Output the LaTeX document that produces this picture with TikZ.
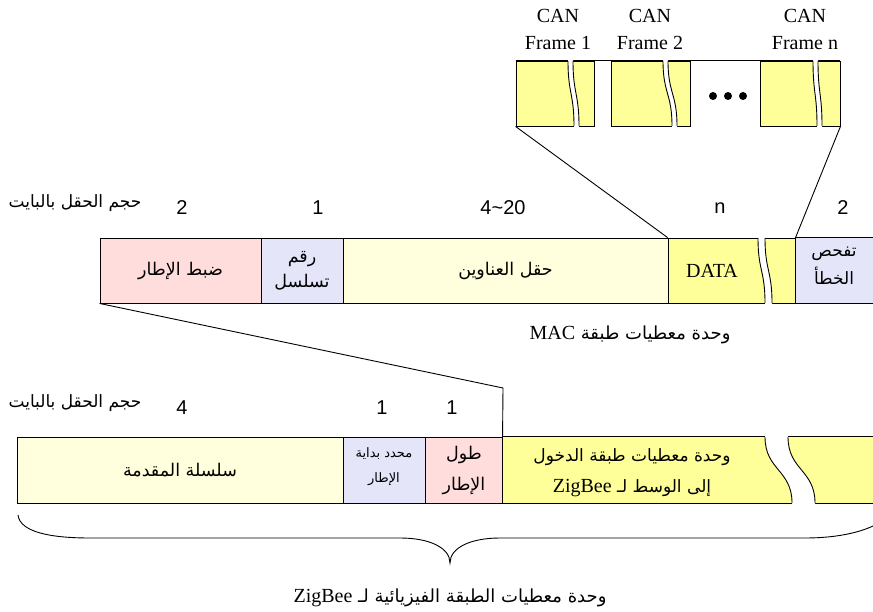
\documentclass[tikz,border=0pt]{standalone}
\usepackage{fontspec}
\setmainfont{Liberation Serif}
\newfontfamily\arabicfont[Script=Arabic]{DejaVu Sans}
\newfontfamily\numfont{Liberation Sans}
\TeXXeTstate=1
\newcommand\ar[1]{\beginR#1\endR}
\definecolor{pinkc}{RGB}{255,221,221}
\definecolor{lavc}{RGB}{229,229,250}
\definecolor{lyel}{RGB}{255,255,221}
\definecolor{yelc}{RGB}{255,255,153}
\newcommand\brkcut[5]{%
 \fill[white] (#1,{#2-1}) -- (#1,#2) .. controls (#1,{(#2+#3)/2}) and ({#1+#5},{(#2+#3)/2}) .. ({#1+#5},#3) -- ({#1+#5},{#3+1}) -- ({#1+#5+#4},{#3+1}) -- ({#1+#5+#4},#3) .. controls ({#1+#5+#4},{(#2+#3)/2}) and ({#1+#4},{(#2+#3)/2}) .. ({#1+#4},#2) -- ({#1+#4},{#2-1}) -- cycle;
 \draw (#1,#2) .. controls (#1,{(#2+#3)/2}) and ({#1+#5},{(#2+#3)/2}) .. ({#1+#5},#3);
 \draw ({#1+#4},#2) .. controls ({#1+#4},{(#2+#3)/2}) and ({#1+#5+#4},{(#2+#3)/2}) .. ({#1+#5+#4},#3);
}
\begin{document}
\begin{tikzpicture}[x=1pt,y=-1pt,line width=0.9pt,
  box/.style={draw=black,inner sep=0pt,align=center,font=\arabicfont\fontsize{17.5}{27}\selectfont},
  openbox/.style={draw=none,inner sep=0pt,align=center},
  lat/.style={font=\fontsize{20}{27}\selectfont,align=center,inner sep=0pt},
  num/.style={font=\numfont\fontsize{20}{24}\selectfont,inner sep=0pt},
  arl/.style={font=\arabicfont\fontsize{17}{28}\selectfont,inner sep=0pt,align=center},
  arbig/.style={font=\arabicfont\fontsize{18}{22}\selectfont,inner sep=0pt,align=center}]
\useasboundingbox (0,0) rectangle (873,612);

% ---------- CAN frames ----------
\node[lat] (t1) at (558,29) {CAN\\Frame 1};
\node[lat] (t2) at (650,29) {CAN\\Frame 2};
\node[lat] (tn) at (805,29) {CAN\\Frame n};
\node[box,fill=yelc,minimum width=78pt,minimum height=65pt] (can1) at (555,93.5) {};
\node[box,fill=yelc,minimum width=79pt,minimum height=65pt] (can2) at (650.5,93.5) {};
\node[box,fill=yelc,minimum width=80pt,minimum height=65pt] (cann) at (800,93.5) {};
\draw (can1.north west) -- (cann.north east);
\brkcut{568}{61}{126}{5}{6}
\brkcut{663}{61}{126}{5}{9}
\brkcut{813}{61}{126}{5}{4}
\fill (713,96) circle (4pt) (728,96) circle (4pt) (743,96) circle (4pt);

% ---------- MAC frame ----------
\node[arl] (sz1) at (75,203) {\ar{حجم الحقل بالبايت}};
\node[num] (n1a) at (182,208) {2};
\node[num] (n1b) at (318,208) {1};
\node[num] (n1c) at (503,208) {4\textasciitilde 20};
\node[num] (n1d) at (720,208) {n};
\node[num] (n1e) at (843,208) {2};

\node[box,fill=pinkc,minimum width=161pt,minimum height=65pt] (fc) at (180.5,270.5) {\ar{ضبط الإطار}};
\node[box,fill=lavc,minimum width=82pt,minimum height=65pt,font=\arabicfont\fontsize{17.5}{25}\selectfont] (sn) at (302,270.5) {\ar{رقم}\\\ar{تسلسل}};
\node[box,fill=lyel,minimum width=325pt,minimum height=65pt] (ad) at (505.5,270.5) {\ar{حقل العناوين}};
\node[box,fill=yelc,minimum width=128pt,minimum height=65pt] (data) at (732,270.5) {};
\node[lat] (datat) at (712,271) {DATA};
\node[openbox,fill=lavc,minimum width=77pt,minimum height=65pt] (fcs) at (834.5,270.5) {};
\node[arl] (fcst) at (834,266) {\ar{تفحص}\\\ar{الخطأ}};
\draw (fcs.north east) -- (fcs.north west) -- (fcs.south west) -- (fcs.south east);
\brkcut{758}{238}{303}{7}{7}

\draw (can1.south west) -- (data.north west);
\draw (cann.south east) -- (fcs.north west);

\node[arbig] (macl) at (630,335) {\ar{وحدة معطيات طبقة \beginL{\rmfamily\fontsize{20}{24}\selectfont MAC}\endL}};

% ---------- PHY frame ----------
\node[arl] (sz2) at (75,403) {\ar{حجم الحقل بالبايت}};
\node[num] (n2a) at (182,408) {4};
\node[num] (n2b) at (382,408) {1};
\node[num] (n2c) at (452,408) {1};

\node[box,fill=lyel,minimum width=326pt,minimum height=66pt] (pre) at (180,470) {\ar{سلسلة المقدمة}};
\node[box,fill=lavc,minimum width=82pt,minimum height=66pt] (sfd) at (384,470) {};
\node[arl,font=\arabicfont\fontsize{13}{25}\selectfont] (sfdt) at (384,467) {\ar{محدد بداية}\\\ar{الإطار}};
\node[box,fill=pinkc,minimum width=78pt,minimum height=66pt,font=\arabicfont\fontsize{17.5}{31}\selectfont] (len) at (464,470) {\ar{طول}\\\ar{الإطار}};
\node[openbox,fill=yelc,minimum width=370pt,minimum height=66pt] (psdu) at (688,470) {};
\draw (psdu.north east) -- (psdu.north west) -- (psdu.south west) -- (psdu.south east);
\brkcut{765}{437}{503}{23}{27}
\node[arl,font=\arabicfont\fontsize{17}{31}\selectfont] (psdut) at (632,473) {\ar{وحدة معطيات طبقة الدخول}\\\ar{إلى الوسط لـ \beginL{\rmfamily\fontsize{20}{24}\selectfont ZigBee}\endL}};

\coordinate (kink) at (503,388);
\draw (fc.south west) -- (kink) -- (psdu.north west);

% ---------- brace ----------
\draw (18,515) .. controls (20,532) and (50,538) .. (90,538) -- (400,538)
  .. controls (430,538) and (450,548) .. (450,563)
  .. controls (450,548) and (470,538) .. (500,538) -- (805,538)
  .. controls (835,538) and (858,533) .. (873,526);
\node[arbig] (phyl) at (450,598) {\ar{وحدة معطيات الطبقة الفيزيائية  لـ \beginL{\rmfamily\fontsize{20}{24}\selectfont ZigBee}\endL}};
\end{tikzpicture}
\end{document}
